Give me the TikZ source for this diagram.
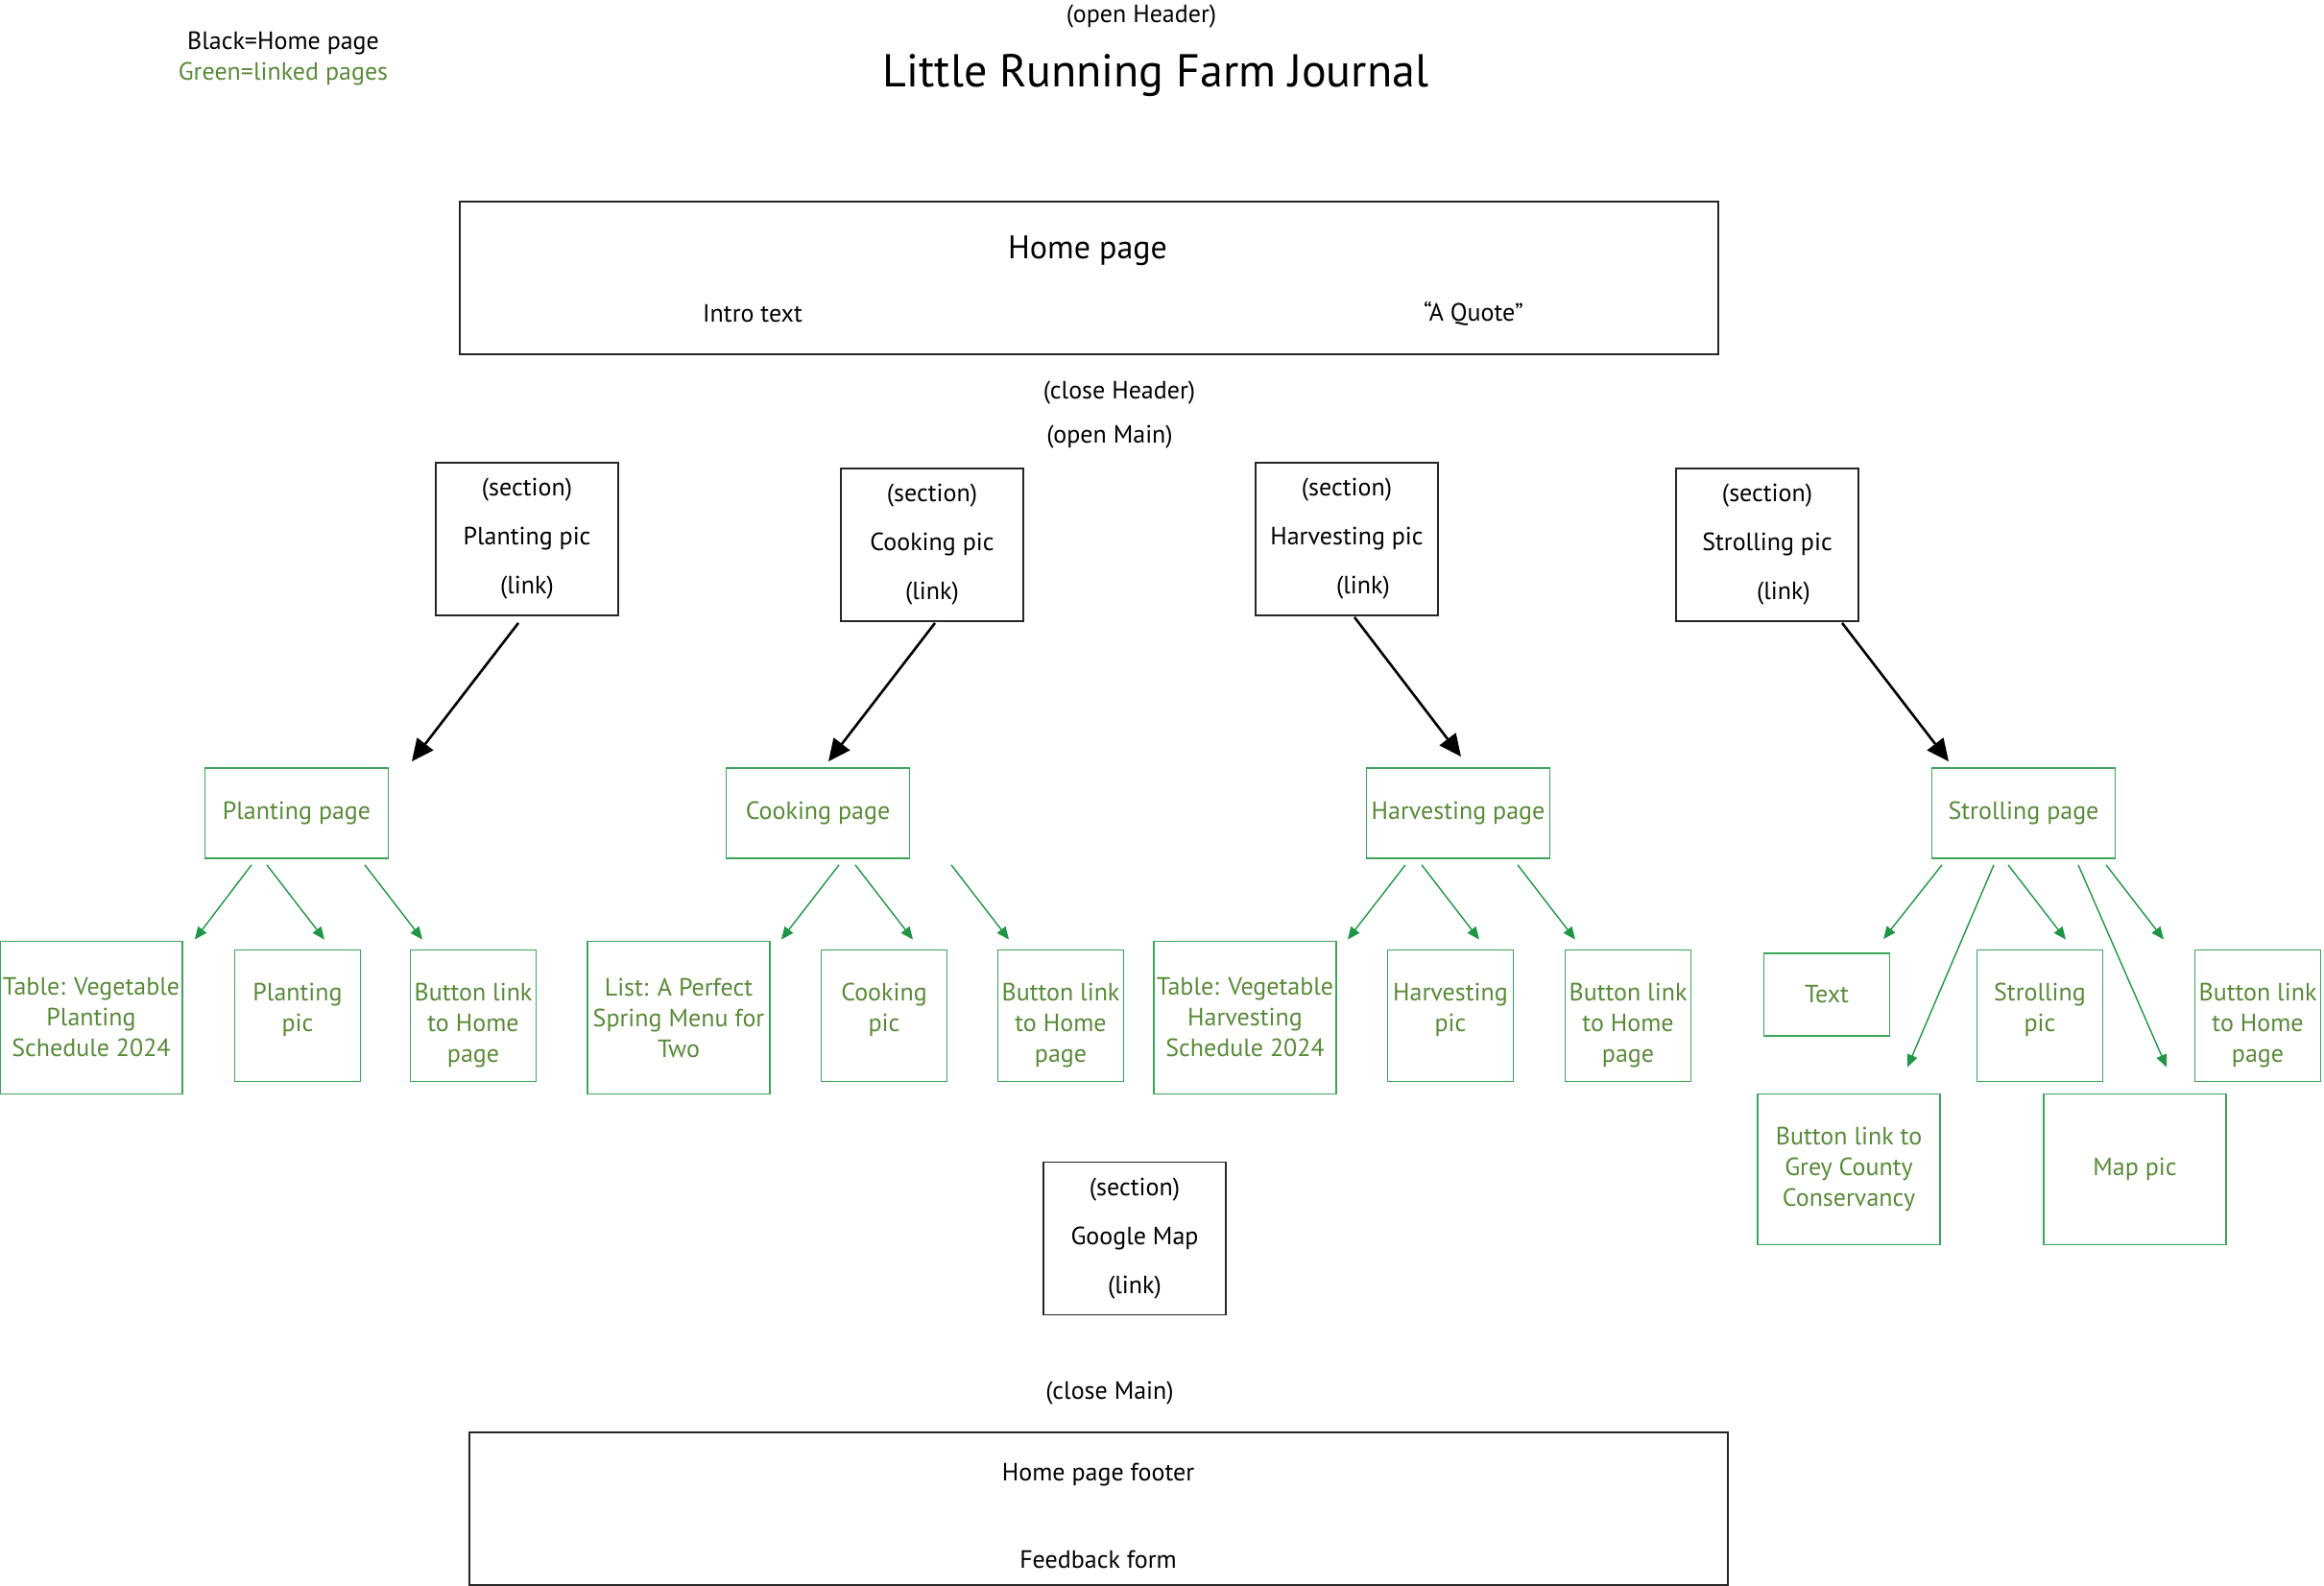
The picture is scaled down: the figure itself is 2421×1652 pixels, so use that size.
\documentclass[tikz,border=0pt]{standalone}
\usepackage{fontspec}
\setmainfont{PT Sans}
\usetikzlibrary{arrows.meta}
\definecolor{txtgreen}{RGB}{88,138,56}
\definecolor{boxgreen}{RGB}{60,165,90}
\definecolor{arrowgreen}{RGB}{30,150,70}
\newcommand{\txtsize}{\fontsize{26}{32}\selectfont}

\begin{document}
\begin{tikzpicture}[x=1pt,y=-1pt,
  lbl/.style={font=\txtsize, inner sep=0pt, yshift=-3pt},
  blkbox/.style={draw=black!85, line width=1.8pt, inner sep=0pt},
  secbox/.style={blkbox, minimum width=190pt, minimum height=159pt, align=center, font=\fontsize{26}{51}\selectfont},
  wide box/.style={blkbox, minimum width=1311pt, minimum height=159pt},
  gbox/.style={draw=boxgreen, line width=1.8pt, text=txtgreen, align=center, inner sep=0pt, font=\txtsize},
  gpage/.style={gbox, minimum width=191pt, minimum height=94pt},
  gbig/.style={gbox, minimum width=190pt, minimum height=159pt},
  gsmall/.style={gbox, minimum width=131pt, minimum height=137pt},
  lower3/.style={text height=103pt},
  upper2/.style={text depth=18pt},
  barrow/.style={draw=black, line width=2.6pt, -{Triangle[length=23pt,width=21pt]}},
  garrow/.style={draw=arrowgreen, line width=1.4pt, -{Triangle[length=13pt,width=11pt]}}]
\useasboundingbox (0,0) rectangle (2421,1652);
% key
\node[lbl] (keyblk) at (295,42) {Black=Home page};
\node[lbl, text=txtgreen] (keygrn) at (295,74) {Green=linked pages};
% header
\node[lbl] (openhdr) at (1189,14) {(open Header)};
\node[lbl, font=\fontsize{48}{56}\selectfont] (title) at (1204,76) {Little Running Farm Journal};
\node[wide box] (home) at (1134.5,289.5) {};
\node[lbl, font=\fontsize{34}{40}\selectfont] (hometitle) at (1133,258) {Home page};
\node[lbl] (intro) at (784,324) {Intro text};
\node[lbl] (quote) at (1535,324) {“A Quote”};
\node[lbl] (closehdr) at (1166,406) {(close Header)};
\node[lbl] (openmain) at (1156,452) {(open Main)};
% sections
\node[secbox] (plantsec) at (549,561.5) {(section)\\Planting pic\\(link)};
\node[secbox] (cooksec) at (971,567.5) {(section)\\Cooking pic\\(link)};
\node[secbox] (harvsec) at (1403,561.5) {(section)\\Harvesting pic\\\hspace*{34pt}(link)};
\node[secbox] (strollsec) at (1841,567.5) {(section)\\Strolling pic\\\hspace*{34pt}(link)};
\node[secbox] (mapsec) at (1182,1290) {(section)\\Google Map\\(link)};
% footer
\node[lbl] (closemain) at (1156,1448) {(close Main)};
\node[wide box] (footer) at (1144.5,1571.5) {};
\node[lbl] (footlbl) at (1144,1533) {Home page footer};
\node[lbl] (feedback) at (1144,1621) {Feedback form};
% linked pages
\node[gpage] (plantpg) at (309,847) {Planting page};
\node[gpage] (cookpg) at (852,847) {Cooking page};
\node[gpage] (harvpg) at (1519,847) {Harvesting page};
\node[gpage] (strollpg) at (2108,847) {Strolling page};
% planting page
\node[gbig] (planttab) at (95,1060) {Table: Vegetable\\Planting\\Schedule 2024};
\node[gsmall, upper2] (plantpic) at (310,1058) {Planting\\pic};
\node[gsmall, lower3] (plantbtn) at (493,1058) {Button link\\to Home\\page};
% cooking page
\node[gbig] (cooklist) at (707,1060) {List: A Perfect\\Spring Menu for\\Two};
\node[gsmall, upper2] (cookpic) at (921,1058) {Cooking\\pic};
\node[gsmall, lower3] (cookbtn) at (1105,1058) {Button link\\to Home\\page};
% harvesting page
\node[gbig] (harvtab) at (1297,1060) {Table: Vegetable\\Harvesting\\Schedule 2024};
\node[gsmall, upper2] (harvpic) at (1511,1058) {Harvesting\\pic};
\node[gsmall, lower3] (harvbtn) at (1696,1058) {Button link\\to Home\\page};
% strolling page
\node[gsmall, minimum height=86pt] (strolltxt) at (1903,1036) {Text};
\node[gsmall, upper2] (strollpic) at (2125,1058) {Strolling\\pic};
\node[gsmall, lower3] (strollbtn) at (2352,1058) {Button link\\to Home\\page};
\node[gbig, minimum height=157pt] (greybtn) at (1926,1218) {Button link to\\Grey County\\Conservancy};
\node[gbig, minimum height=157pt] (mappic) at (2224,1218) {Map pic};
% section links
\draw[barrow] ([shift={(-9,7)}]plantsec.south) -- ([shift={(120,-6)}]plantpg.north);
\draw[barrow] ([shift={(3,1)}]cooksec.south) -- ([shift={(11,-6)}]cookpg.north);
\draw[barrow] ([shift={(8,1)}]harvsec.south) -- ([shift={(3,-11)}]harvpg.north);
\draw[barrow] ([shift={(78,1)}]strollsec.south) -- ([shift={(-78,-6)}]strollpg.north);
% page contents
\draw[garrow] ([shift={(-47,6)}]plantpg.south) -- ([shift={(12,-1)}]planttab.north east);
\draw[garrow] ([shift={(-31,6)}]plantpg.south) -- ([shift={(28,-10)}]plantpic.north);
\draw[garrow] ([shift={(71,6)}]plantpg.south) -- ([shift={(-53,-10)}]plantbtn.north);
\draw[garrow] ([shift={(22,6)}]cookpg.south) -- ([shift={(11,-1)}]cooklist.north east);
\draw[garrow] ([shift={(39,6)}]cookpg.south) -- ([shift={(30,-10)}]cookpic.north);
\draw[garrow] ([shift={(139,6)}]cookpg.south) -- ([shift={(-54,-10)}]cookbtn.north);
\draw[garrow] ([shift={(-55,6)}]harvpg.south) -- ([shift={(11,-1)}]harvtab.north east);
\draw[garrow] ([shift={(-38,6)}]harvpg.south) -- ([shift={(30,-10)}]harvpic.north);
\draw[garrow] ([shift={(62,6)}]harvpg.south) -- ([shift={(-55,-10)}]harvbtn.north);
\draw[garrow] ([shift={(-85,6)}]strollpg.south) -- ([shift={(59,-14)}]strolltxt.north);
\draw[garrow] ([shift={(-31,6)}]strollpg.south) -- ([shift={(61,-27)}]greybtn.north);
\draw[garrow] ([shift={(-16,6)}]strollpg.south) -- ([shift={(27,-10)}]strollpic.north);
\draw[garrow] ([shift={(57,6)}]strollpg.south) -- ([shift={(33,-27)}]mappic.north);
\draw[garrow] ([shift={(86,6)}]strollpg.south) -- ([shift={(-98,-10)}]strollbtn.north);
\end{tikzpicture}
\end{document}
